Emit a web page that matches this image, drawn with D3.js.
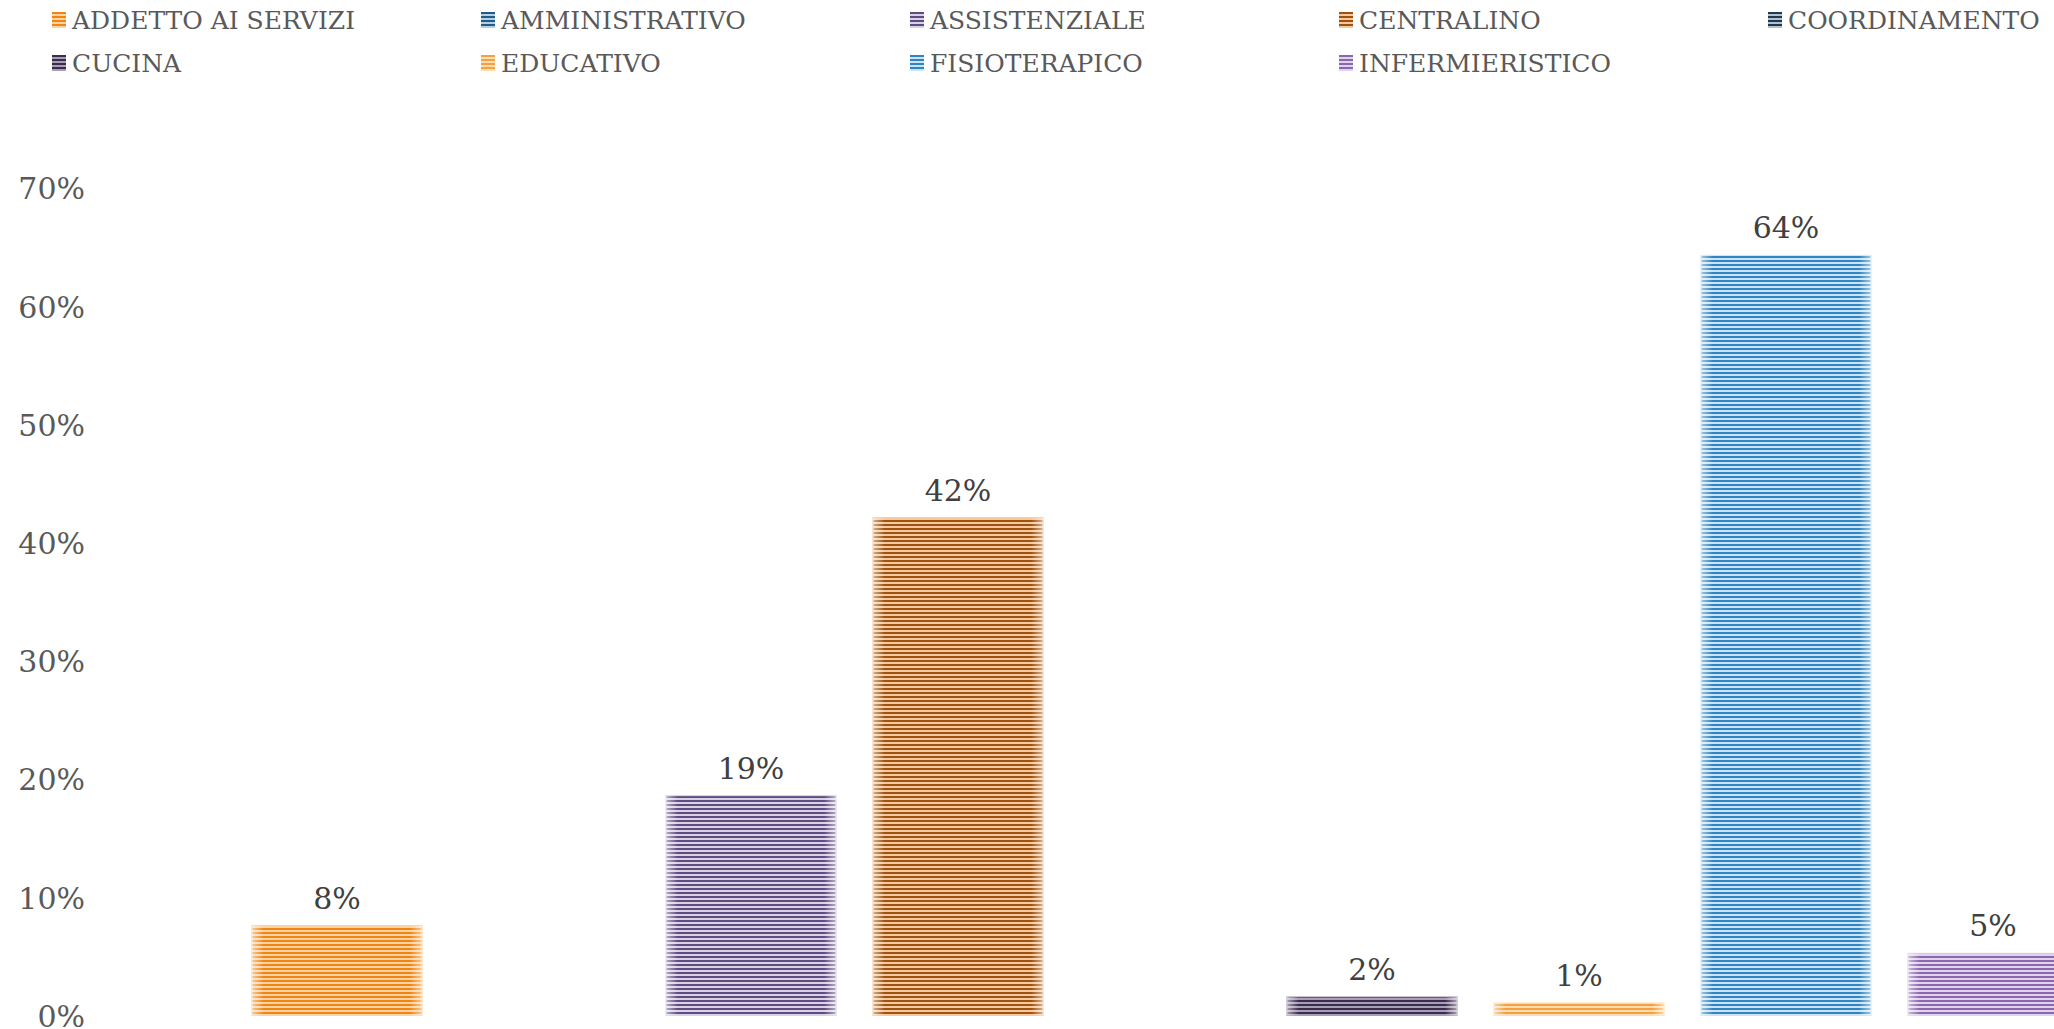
<!DOCTYPE html>
<html>
<head>
<meta charset="utf-8">
<script src="https://cdn.jsdelivr.net/npm/d3@7"></script>
<style>
  html, body { margin: 0; padding: 0; background: #fff; overflow: hidden; }
  svg { display: block; }
</style>
</head>
<body>
<svg id="chart"></svg>
<script>
// Staff categories and the share of each one
const categories = [
  "ADDETTO AI SERVIZI", "AMMINISTRATIVO", "ASSISTENZIALE", "CENTRALINO", "COORDINAMENTO",
  "CUCINA", "EDUCATIVO", "FISIOTERAPICO", "INFERMIERISTICO"
];
const shares = [0.076, 0, 0.186, 0.421, 0, 0.0157, 0.0106, 0.643, 0.0526];
// Stripe colours: dark line and light line of each category
const stripeDark  = ["#F0850F", "#1F5E8A", "#5F4C80", "#9E520F", "#1C3B53", "#3B2C4B", "#F4A03E", "#2D86C2", "#8A67AF"];
const stripeLight = ["#FBD3A6", "#B9CFE0", "#D9D2E6", "#F5C9A0", "#B4C2CE", "#A99EB7", "#FCDDB3", "#CDE3F3", "#E0D4EC"];
const yTicks = [0, 0.1, 0.2, 0.3, 0.4, 0.5, 0.6, 0.7];

const W = 2054, H = 1029;
const FONT = "'DejaVu Serif', serif";

const svg = d3.select("#chart").attr("width", W).attr("height", H)
  .attr("viewBox", `0 0 ${W} ${H}`);
const defs = svg.append("defs");

// horizontal stripe fills
categories.forEach((c, i) => {
  const p = defs.append("pattern")
    .attr("id", "stripe" + i)
    .attr("patternUnits", "userSpaceOnUse")
    .attr("width", 4).attr("height", 4);
  p.append("rect").attr("width", 4).attr("height", 4).attr("fill", stripeLight[i]);
  p.append("rect").attr("width", 4).attr("height", 2).attr("fill", stripeDark[i]);
});

// soft glow along the vertical edges of each bar
const glow = defs.append("linearGradient").attr("id", "edgeGlow")
  .attr("x1", 0).attr("x2", 1).attr("y1", 0).attr("y2", 0);
[[0, 0.55], [0.07, 0], [0.93, 0], [1, 0.55]].forEach(([o, a]) =>
  glow.append("stop").attr("offset", o).attr("stop-color", "#fff").attr("stop-opacity", a));

// plot frame
const plotLeft = 233.5, step = 207, plotBottom = 1015.5, plotTop = 188;
const x = d3.scaleBand()
  .domain(categories)
  .range([plotLeft, plotLeft + step * categories.length])
  .paddingInner(0.1787)
  .paddingOuter(0.1787 / 2);
const y = d3.scaleLinear().domain([0, 0.7]).range([plotBottom, plotTop]);

// y axis labels
const yAxis = d3.axisLeft(y).tickValues(yTicks).tickFormat(d3.format(".0%")).tickSize(0).tickPadding(0);
const gy = svg.append("g").attr("transform", "translate(85,0)").call(yAxis);
gy.select(".domain").remove();
gy.selectAll("text")
  .attr("font-family", FONT).attr("font-size", 30).attr("fill", "#595959")
  .attr("dy", "0.36em");

// bars
const data = categories.map((c, i) => ({ c, v: shares[i], i }));
const bars = svg.append("g").selectAll("g").data(data.filter(d => d.v > 0)).join("g");
bars.append("rect")
  .attr("x", d => x(d.c)).attr("width", x.bandwidth())
  .attr("y", d => y(d.v)).attr("height", d => y(0) - y(d.v))
  .attr("fill", d => `url(#stripe${d.i})`)
  .attr("stroke", d => stripeLight[d.i]).attr("stroke-width", 1);
bars.append("rect")
  .attr("x", d => x(d.c)).attr("width", x.bandwidth())
  .attr("y", d => y(d.v)).attr("height", d => y(0) - y(d.v))
  .attr("fill", "url(#edgeGlow)");

// value labels
bars.append("text")
  .attr("x", d => x(d.c) + x.bandwidth() / 2)
  .attr("y", d => y(d.v) - 17)
  .attr("text-anchor", "middle")
  .attr("font-family", FONT).attr("font-size", 30).attr("fill", "#404040")
  .text(d => d3.format(".0%")(d.v));

// legend: five columns, two rows
const legendCols = 5, legendX0 = 52, legendDx = 429, legendY0 = 20, legendDy = 43;
const items = svg.append("g").selectAll("g").data(data).join("g")
  .attr("transform", d => `translate(${legendX0 + (d.i % legendCols) * legendDx},${legendY0 + Math.floor(d.i / legendCols) * legendDy})`);
items.append("rect")
  .attr("x", 0).attr("y", -8).attr("width", 14).attr("height", 16)
  .attr("fill", d => `url(#stripe${d.i})`);
items.append("text")
  .attr("x", 20).attr("y", 0).attr("dy", "0.36em")
  .attr("font-family", FONT).attr("font-size", 25).attr("fill", "#595959")
  .text(d => d.c);
</script>
</body>
</html>
